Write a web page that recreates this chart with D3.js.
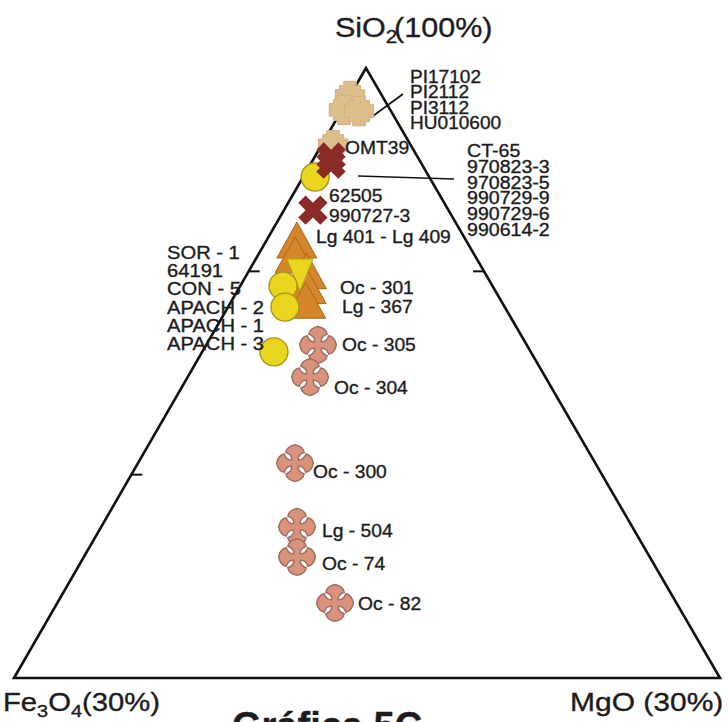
<!DOCTYPE html>
<html><head><meta charset="utf-8">
<script src="https://cdn.jsdelivr.net/npm/d3@7"></script>
<style>
body{margin:0;background:#fff}
svg{display:block}
text{font-family:"Liberation Sans",Arial,Helvetica,sans-serif;fill:#1e1c1d;stroke:#1e1c1d;stroke-width:0.35px}
</style>
</head><body>
<svg id="chart" width="728" height="722"></svg>
<script>
// ---------------- DATA (wt% Fe3O4, MgO, SiO2) ----------------
const tanFe = [1.37, 1.97, 1.36, 3.30];
const tanMg = [0.01, 0.09, 0.76, 0.50];
const tanSi = [98.62, 97.94, 97.88, 96.20];
const tanLabels = ["PI17102", "PI2112", "PI3112", "HU010600"];

const redFe = [3.68, 3.86, 5.76];
const redMg = [0.70, 0.87, 1.23];
const redSi = [95.62, 95.27, 93.01];
const redLabelsA = ["CT-65", "970823-3", "970823-5", "990729-9", "990729-6", "990614-2"];
const redLabelsB = ["62505", "990727-3"];
const omtLabel = "OMT39";

const yelFe = [4.85, 8.90, 9.34, 10.91];
const yelMg = [0.51, 1.82, 2.42, 3.05];
const yelSi = [94.64, 89.28, 88.24, 86.04];
const yelTriFe = [7.91];
const yelTriMg = [2.27];
const yelTriSi = [89.82];
const yelLabels = ["SOR - 1", "64191", "CON - 5", "APACH - 2", "APACH - 1", "APACH - 3"];

const orFe = [7.18, 7.62, 7.53, 7.91, 8.29];
const orMg = [1.28, 1.57, 2.44, 2.79, 3.13];
const orSi = [91.54, 90.81, 90.03, 89.30, 88.58];
const orLabels = ["Lg 401 - Lg 409", "Oc - 301", "Lg - 367"];

const pinkFe = [8.87, 10.00, 12.76, 14.25, 14.99, 14.51];
const pinkMg = [4.75, 5.20, 6.67, 8.32, 9.06, 11.80];
const pinkSi = [86.38, 84.80, 80.57, 77.43, 75.95, 73.69];
const pinkLabels = ["Oc - 305", "Oc - 304", "Oc - 300", "Lg - 504", "Oc - 74", "Oc - 82"];

const leftTicks = [90, 80];   // SiO2 levels on left edge
const rightTicks = [90];      // SiO2 levels on right edge
const axisMax = 30;           // corners: 30% Fe3O4, 30% MgO

// ---------------- LAYOUT ----------------
const A = [366, 68], L = [14, 678], R = [720, 678];
const svg = d3.select("#chart");
const wScale = d3.scaleLinear().domain([0, axisMax]).range([0, 1]);
const siY = d3.scaleLinear().domain([100 - axisMax, 100]).range([L[1], A[1]]);

function project(fe, mg, si) {
  const s = fe + mg + si;
  const a = wScale(fe * 100 / s), b = wScale(mg * 100 / s), c = 1 - a - b;
  return [a * L[0] + b * R[0] + c * A[0], a * L[1] + b * R[1] + c * A[1]];
}
function series(fe, mg, si) { return fe.map((f, i) => project(f, mg[i], si[i])); }

// triangle frame
svg.append("path")
  .attr("d", d3.line()([A, L, R, A]) + "Z")
  .attr("fill", "none").attr("stroke", "#111").attr("stroke-width", 2.6)
  .attr("stroke-linejoin", "miter");

// ticks
function edgePoint(P, si) {
  const t = 1 - (si - (100 - axisMax)) / axisMax;
  return [A[0] + (P[0] - A[0]) * t, siY(si)];
}
leftTicks.forEach(v => {
  const p = edgePoint(L, v);
  svg.append("line").attr("x1", p[0]).attr("y1", p[1]).attr("x2", p[0] + 11).attr("y2", p[1])
    .attr("stroke", "#111").attr("stroke-width", 2);
});
rightTicks.forEach(v => {
  const p = edgePoint(R, v);
  svg.append("line").attr("x1", p[0]).attr("y1", p[1]).attr("x2", p[0] - 11).attr("y2", p[1])
    .attr("stroke", "#111").attr("stroke-width", 2);
});

// leader lines
svg.append("line").attr("x1", 373).attr("y1", 116).attr("x2", 403).attr("y2", 94)
  .attr("stroke", "#111").attr("stroke-width", 1.6);
svg.append("line").attr("x1", 358).attr("y1", 176).attr("x2", 454).attr("y2", 179)
  .attr("stroke", "#111").attr("stroke-width", 1.6);

// ---------------- MARKERS ----------------
const gm = svg.append("g");

// tan stepped crosses
const stepPts = [[-3,-7],[3,-7],[3,-5],[5,-5],[5,-3],[7,-3],[7,3],[5,3],[5,5],[3,5],[3,7],[-3,7],[-3,5],[-5,5],[-5,3],[-7,3],[-7,-3],[-5,-3],[-5,-5],[-3,-5]];
const stepPath = d3.line()(stepPts.map(p => [p[0] * 2.1, p[1] * 2.1])) + "Z";
gm.selectAll(".tan").data(series(tanFe, tanMg, tanSi)).join("path")
  .attr("d", stepPath).attr("transform", d => `translate(${d[0]},${d[1]})`)
  .attr("fill", "#dcbd8c").attr("stroke", "#d0b07e").attr("stroke-width", 1);

// orange triangles
const triUp = d3.line()([[0, -18], [20, 18], [-20, 18]]) + "Z";
gm.selectAll(".or").data(series(orFe, orMg, orSi)).join("path")
  .attr("d", triUp).attr("transform", d => `translate(${d[0]},${d[1]})`)
  .attr("fill", "#d5862b").attr("stroke", "#a9661c").attr("stroke-width", 1);

// yellow down triangle
const triDown = d3.line()([[-13, -16], [13, -16], [0, 16]]) + "Z";
gm.selectAll(".yt").data(series(yelTriFe, yelTriMg, yelTriSi)).join("path")
  .attr("d", triDown).attr("transform", d => `translate(${d[0]},${d[1]})`)
  .attr("fill", "#ead61e").attr("stroke", "#b19f16").attr("stroke-width", 1);

// yellow circles
gm.selectAll(".yc").data(series(yelFe, yelMg, yelSi)).join("circle")
  .attr("cx", d => d[0]).attr("cy", d => d[1]).attr("r", 14)
  .attr("fill", "#ead61e").attr("stroke", "#a8961a").attr("stroke-width", 1.4);

// dark red X
const xPath = d3.symbol(d3.symbolCross, 540)();
gm.selectAll(".rx").data(series(redFe, redMg, redSi)).join("path")
  .attr("d", xPath).attr("transform", d => `translate(${d[0]},${d[1]}) rotate(45)`)
  .attr("fill", "#8a2b27");

// pink cross pattée
const arm = [[-3,-3],[-2.5,-8],[-8.5,-10],[-7.5,-15.5],[0,-17],[7.5,-15.5],[8.5,-10],[2.5,-8],[3,-3]];
function rot(p, r) { let [x, y] = p; for (let i = 0; i < r; i++) [x, y] = [-y, x]; return (x * 1.08).toFixed(2) + "," + (y * 1.08).toFixed(2); }
let crossD = "M" + rot(arm[0], 0);
for (let r = 0; r < 4; r++) {
  crossD += "Q" + rot(arm[1], r) + " " + rot(arm[2], r) + "Q" + rot(arm[3], r) + " " + rot(arm[4], r)
          + "Q" + rot(arm[5], r) + " " + rot(arm[6], r) + "Q" + rot(arm[7], r) + " " + rot(arm[8], r);
}
crossD += "Z";
gm.selectAll(".pk").data(series(pinkFe, pinkMg, pinkSi)).join("path")
  .attr("d", crossD).attr("transform", d => `translate(${d[0]},${d[1]})`)
  .attr("fill", "#d9937d").attr("stroke", "#9e6f62").attr("stroke-width", 1.5);

// ---------------- TEXT ----------------
const SX = 1.07;
function label(x, y, str, size, sx) {
  return svg.append("text").attr("transform", `translate(${x},${y}) scale(${sx || SX},1)`)
    .attr("font-size", size).text(str);
}
function block(x, y0, step, arr, size, sx) {
  arr.forEach((s, i) => label(x, y0 + step * i, s, size, sx));
}
block(410, 82.5, 15.5, tanLabels, 17.5, 1.09);
label(345, 154, omtLabel, 18);
block(467, 157, 15.8, redLabelsA, 17.5, 1.12);
block(329, 202, 20, redLabelsB, 18);
label(316, 243, orLabels[0], 18);
label(340, 294, orLabels[1], 18);
label(342, 313, orLabels[2], 18);
block(167, 259, 18.2, yelLabels, 18, 1.12);
label(342, 351, pinkLabels[0], 18);
label(334, 394, pinkLabels[1], 18);
label(313, 478, pinkLabels[2], 18);
label(322, 537, pinkLabels[3], 18);
label(322, 570, pinkLabels[4], 18);
label(358, 610, pinkLabels[5], 18);

// axis titles
const t1 = svg.append("text").attr("transform", "translate(335,37) scale(1.09,1)").attr("font-size", 28);
t1.append("tspan").text("SiO");
t1.append("tspan").attr("font-size", 19).attr("dy", 6).text("2");
t1.append("tspan").attr("dy", -6).attr("dx", -3).text("(100%)");

const t2 = svg.append("text").attr("transform", "translate(3,711) scale(1.17,1)").attr("font-size", 25);
t2.append("tspan").text("Fe");
t2.append("tspan").attr("font-size", 17).attr("dy", 6).text("3");
t2.append("tspan").attr("dy", -6).text("O");
t2.append("tspan").attr("font-size", 17).attr("dy", 6).text("4");
t2.append("tspan").attr("dy", -6).text("(30%)");

label(570, 711, "MgO (30%)", 25, 1.2);

// caption cut off at bottom
svg.append("text").attr("x", 232).attr("y", 739).attr("font-size", 38)
  .attr("font-weight", "bold").text("Gráfica 5C");
</script>
</body></html>
